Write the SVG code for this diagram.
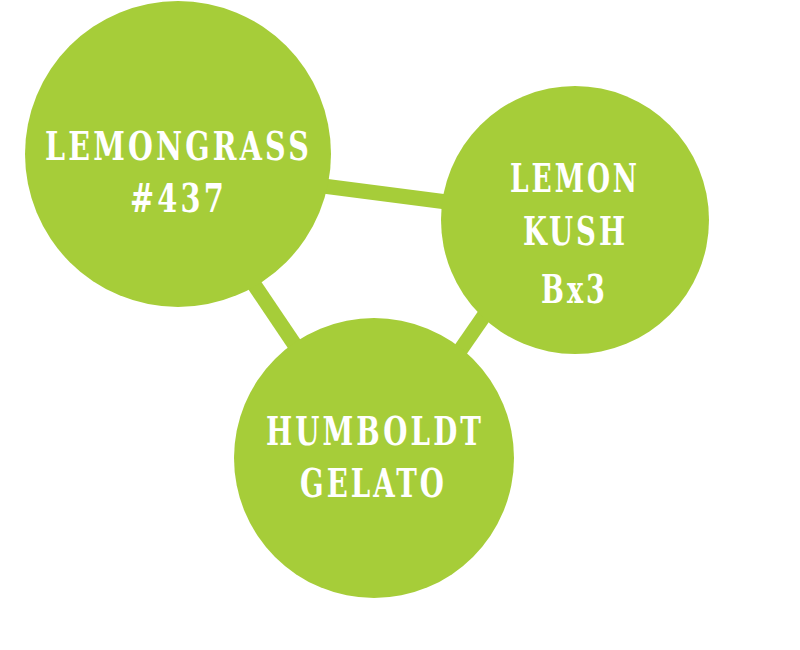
<svg xmlns="http://www.w3.org/2000/svg" width="800" height="650" viewBox="0 0 800 650">
<style>
.node{fill:#a6cd39}
.link{stroke:#a6cd39;stroke-width:15;fill:none}
.lbl{fill:#ffffff;font-family:"DejaVu Serif Condensed","DejaVu Serif","Liberation Serif",serif;font-stretch:condensed;font-weight:bold;font-size:40px;letter-spacing:4px;text-anchor:start}
</style>
<rect width="800" height="650" fill="#ffffff"/>
<g id="connectors">
<line class="link" x1="300" y1="183" x2="470" y2="205"/>
<line class="link" x1="245" y1="271" x2="305" y2="360"/>
<line class="link" x1="495" y1="300" x2="450" y2="365"/>
</g>
<g id="lemongrass">
<circle class="node" cx="178" cy="154" r="153"/>
<text class="lbl" x="45" y="160" textLength="267" lengthAdjust="spacingAndGlyphs">LEMONGRASS</text>
<text class="lbl" x="130" y="212" textLength="97" lengthAdjust="spacingAndGlyphs">#437</text>
</g>
<g id="lemon-kush">
<circle class="node" cx="575" cy="220" r="134"/>
<text class="lbl" x="510" y="192" textLength="130" lengthAdjust="spacingAndGlyphs">LEMON</text>
<text class="lbl" x="523" y="245" textLength="105" lengthAdjust="spacingAndGlyphs">KUSH</text>
<text class="lbl" x="541" y="303" textLength="67" lengthAdjust="spacingAndGlyphs">Bx3</text>
</g>
<g id="humboldt-gelato">
<circle class="node" cx="374" cy="458" r="140"/>
<text class="lbl" x="266" y="445" textLength="218" lengthAdjust="spacingAndGlyphs">HUMBOLDT</text>
<text class="lbl" x="300" y="497" textLength="147" lengthAdjust="spacingAndGlyphs">GELATO</text>
</g>
</svg>
